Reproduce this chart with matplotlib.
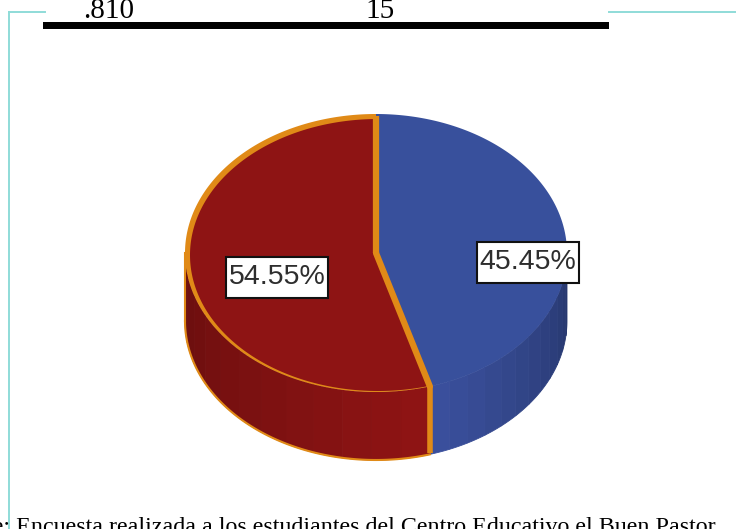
import numpy as np
import matplotlib
matplotlib.use("Agg")
import matplotlib.pyplot as plt
from matplotlib.colors import to_rgb
from matplotlib.patches import Rectangle

labels = ["45.45%", "54.55%"]
shares = [45.45, 54.55]
table_cells = [".810", "15"]
source_text = "Fuente: Encuesta realizada a los estudiantes del Centro Educativo el Buen Pastor"

# pie geometry in pixels of the picture
cx, cy = 376, 253
rx, ry = 191, 139
depth = 68
orange = "#e08a17"


def ellipse_xy(angles, center_x=cx, center_y=cy, radius_x=rx, radius_y=ry):
    # angles run clockwise from the top of the pie
    a = np.radians(angles)
    return center_x + radius_x * np.sin(a), center_y - radius_y * np.cos(a)


def mix(c1, c2, t):
    return tuple((1 - t) * np.array(to_rgb(c1)) + t * np.array(to_rgb(c2)))


def side_strips(ax, start, end, c1, c2, n=12):
    edges = np.linspace(start, end, n + 1)
    for i in range(n):
        a = np.linspace(edges[i], edges[i + 1], 12)
        x, y = ellipse_xy(a)
        color = mix(c1, c2, i / (n - 1))
        ax.fill(np.r_[x, x[::-1]], np.r_[y, y[::-1] + depth], color=color, lw=0.6)


def slice_xy(start, end, **kw):
    a = np.linspace(start, end, 200)
    x, y = ellipse_xy(a, **kw)
    return np.r_[kw.get("center_x", cx), x], np.r_[kw.get("center_y", cy), y]


def label_box(ax, x, y, text):
    ax.add_patch(Rectangle((x - 51, y - 20.5), 102, 41, fc="white", ec="#111111", lw=1.5, zorder=5))
    ax.text(x, y, text, family="Liberation Sans", fontsize=20.5, color="#2e2e2e",
            ha="center", va="center", zorder=6)


fig = plt.figure(figsize=(7.36, 5.29), dpi=100)
ax = fig.add_axes([0, 0, 1, 1])
ax.set_xlim(0, 736)
ax.set_ylim(529, 0)
ax.axis("off")

# page frame and table rule behind the chart
ax.plot([9, 9], [12, 529], color="#8fdcd8", lw=1.4)
ax.plot([9, 45], [12, 12], color="#8fdcd8", lw=1.4)
ax.plot([609, 736], [12, 12], color="#8fdcd8", lw=1.4)
ax.fill([43, 609, 609, 43], [22, 22, 29, 29], color="black", lw=0)
ax.text(109, 18, table_cells[0], family="Liberation Serif", fontsize=21, ha="center", va="baseline")
ax.text(380, 18, table_cells[1], family="Liberation Serif", fontsize=21, ha="center", va="baseline")

blue_end = 360 * shares[0] / sum(shares)

# pie wall, only the front half shows
side_strips(ax, 90, blue_end, "#27386e", "#3a4f9c")
side_strips(ax, blue_end, 270, "#8e1414", "#6b0e0e")
xb, yb = ellipse_xy(np.linspace(blue_end, 270, 120))
ax.plot(xb, yb + depth, color=orange, lw=1.5)
ax.plot([xb[-1], xb[-1]], [yb[-1], yb[-1] + depth], color=orange, lw=1.5)
xv, yv = ellipse_xy(np.array([blue_end]))
ax.plot([xv[0], xv[0]], [yv[0], yv[0] + depth - 1], color=orange, lw=4, solid_capstyle="butt")

# top face
ax.fill(*slice_xy(0, blue_end), color="#38509c", lw=0)
ax.fill(*slice_xy(blue_end, 360), color=orange, lw=0)
ax.fill(*slice_xy(blue_end + 1, 360, center_x=378, center_y=255, radius_x=188, radius_y=136),
        color="#8e1414", lw=0)
ax.plot([cx, cx], [cy - ry + 2, cy], color=orange, lw=4.5, solid_capstyle="butt")
ax.plot([cx, xv[0]], [cy, yv[0]], color=orange, lw=4.5, solid_capstyle="round")

label_box(ax, 528, 262, labels[0])
label_box(ax, 277, 277, labels[1])

ax.text(716, 533, source_text, family="Liberation Serif", fontsize=17.3, ha="right", va="baseline", clip_on=False)

fig.savefig("out.png", dpi=100)
